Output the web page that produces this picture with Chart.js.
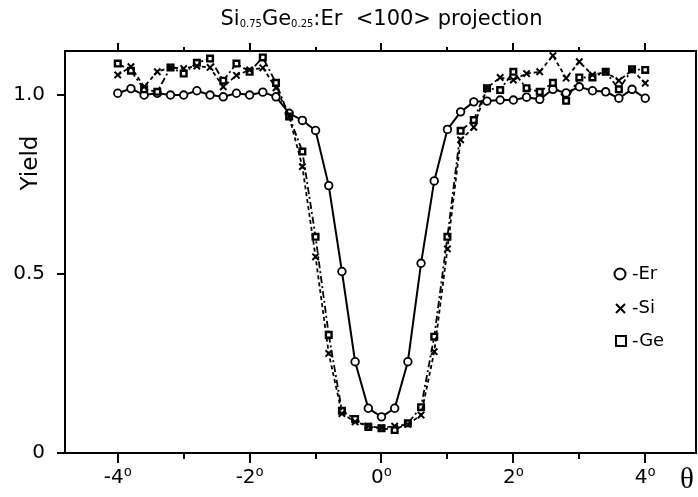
<!DOCTYPE html>
<html>
<head>
<meta charset="utf-8">
<script src="https://cdn.jsdelivr.net/npm/chart.js@4/dist/chart.umd.min.js"></script>
<style>
  html, body { margin: 0; padding: 0; background: #fff; }
  #wrap { width: 698px; height: 497px; }
</style>
</head>
<body>
<div id="wrap"><canvas id="c" width="698" height="497"></canvas></div>
<script>
// ---- data ----
const theta = [-4.0,-3.8,-3.6,-3.4,-3.2,-3.0,-2.8,-2.6,-2.4,-2.2,-2.0,-1.8,-1.6,-1.4,-1.2,-1.0,-0.8,-0.6,-0.4,-0.2,
               0.0,0.2,0.4,0.6,0.8,1.0,1.2,1.4,1.6,1.8,2.0,2.2,2.4,2.6,2.8,3.0,3.2,3.4,3.6,3.8,4.0];
const yieldEr = [1.005,1.018,1.000,1.005,1.000,1.000,1.012,1.000,0.995,1.005,1.000,1.008,0.995,0.949,0.929,0.901,0.747,0.507,0.255,0.125,
                 0.101,0.125,0.255,0.530,0.760,0.904,0.953,0.981,0.983,0.986,0.986,0.994,0.988,1.016,1.006,1.023,1.012,1.009,0.991,1.016,0.991];
const yieldSi = [1.056,1.079,1.023,1.065,1.077,1.074,1.081,1.077,1.023,1.055,1.070,1.076,1.020,0.940,0.800,0.548,0.278,0.110,0.087,0.075,
                 0.070,0.075,0.080,0.106,0.283,0.570,0.875,0.910,1.020,1.049,1.042,1.060,1.065,1.110,1.047,1.093,1.056,1.065,1.040,1.070,1.033];
const yieldGe = [1.088,1.068,1.016,1.009,1.077,1.060,1.090,1.102,1.040,1.088,1.065,1.105,1.034,0.940,0.842,0.604,0.330,0.118,0.095,0.073,
                 0.069,0.064,0.083,0.128,0.325,0.604,0.900,0.930,1.019,1.014,1.065,1.019,1.009,1.034,0.984,1.049,1.049,1.065,1.016,1.072,1.070];
const xTickValues = [-4,-3,-2,-1,0,1,2,3,4];
const xTickLabels = {"-4":"-4⁰","-2":"-2⁰","0":"0⁰","2":"2⁰","4":"4⁰"};
const yTickValues = [0, 0.5, 1.0];
const yTickLabels = {"0":"0","0.5":"0.5","1":"1.0"};
const seriesNames = ["-Er","-Si","-Ge"];

const pts = (ys) => theta.map((t, i) => ({x: t, y: ys[i]}));

const decor = {
  id: 'decor',
  afterDraw(chart) {
    const ctx = chart.ctx, a = chart.chartArea;
    const xs = chart.scales.x, ys = chart.scales.y;
    ctx.save();
    ctx.strokeStyle = '#000';
    ctx.lineWidth = 2;
    // top and right frame
    ctx.beginPath();
    ctx.moveTo(a.left, a.top); ctx.lineTo(a.right, a.top); ctx.lineTo(a.right, a.bottom);
    ctx.stroke();
    // x ticks (bottom outward, top outward)
    xTickValues.forEach(v => {
      const px = Math.round(xs.getPixelForValue(v));
      const major = v % 2 === 0;
      ctx.beginPath();
      ctx.moveTo(px, a.bottom); ctx.lineTo(px, a.bottom + (major ? 10 : 6));
      ctx.moveTo(px, a.top); ctx.lineTo(px, a.top - (major ? 8 : 4));
      ctx.stroke();
    });
    // y ticks
    yTickValues.forEach(v => {
      const py = Math.round(ys.getPixelForValue(v));
      ctx.beginPath();
      ctx.moveTo(a.left, py); ctx.lineTo(a.left - 8, py);
      ctx.stroke();
    });
    // title with subscripts
    const parts = [["Si",21,0],["0.75",10,2],["Ge",21,0],["0.25",10,2],[":Er  <100> projection",21,0]];
    let w = 0;
    parts.forEach(p => { ctx.font = p[1] + 'px "DejaVu Sans"'; w += ctx.measureText(p[0]).width; });
    let x = 381.5 - w / 2;
    ctx.fillStyle = '#000';
    ctx.textBaseline = 'alphabetic';
    ctx.textAlign = 'left';
    parts.forEach(p => {
      ctx.font = p[1] + 'px "DejaVu Sans"';
      ctx.fillText(p[0], x, 25 + p[2]);
      x += ctx.measureText(p[0]).width;
    });
    // Yield label
    ctx.save();
    ctx.translate(31, 163);
    ctx.rotate(-Math.PI / 2);
    ctx.font = '23px "DejaVu Sans"';
    ctx.textAlign = 'center';
    ctx.textBaseline = 'middle';
    ctx.fillText('Yield', 0, 0);
    ctx.restore();
    // theta label
    ctx.font = '29px "Liberation Serif"';
    ctx.textAlign = 'center';
    ctx.textBaseline = 'middle';
    ctx.fillText('θ', 687, 480);
    // legend
    ctx.lineWidth = 2;
    ctx.beginPath(); ctx.arc(620, 274, 5.5, 0, Math.PI * 2); ctx.stroke();
    ctx.beginPath();
    ctx.moveTo(616, 304); ctx.lineTo(625, 313);
    ctx.moveTo(625, 304); ctx.lineTo(616, 313);
    ctx.stroke();
    ctx.strokeRect(616, 336, 10, 10);
    ctx.font = '18px "DejaVu Sans"';
    ctx.textAlign = 'left';
    ctx.textBaseline = 'middle';
    ctx.fillText(seriesNames[0], 632, 274);
    ctx.fillText(seriesNames[1], 632, 308.5);
    ctx.fillText(seriesNames[2], 632, 341);
    ctx.restore();
  }
};

new Chart(document.getElementById('c'), {
  type: 'line',
  data: {
    datasets: [
      { label: 'Si', data: pts(yieldSi), borderColor: '#000', backgroundColor: '#fff', borderWidth: 1.8,
        borderDash: [4, 3], pointStyle: 'crossRot', pointRadius: 4.5, pointBorderWidth: 2, tension: 0 },
      { label: 'Ge', data: pts(yieldGe), borderColor: '#000', backgroundColor: '#fff', borderWidth: 1.8,
        borderDash: [7, 3, 2, 3], pointStyle: 'rect', pointRadius: 4, pointBorderWidth: 2.4, tension: 0 },
      { label: 'Er', data: pts(yieldEr), borderColor: '#000', backgroundColor: '#fff', borderWidth: 2,
        pointStyle: 'circle', pointRadius: 3.8, pointBorderWidth: 1.8, tension: 0 }
    ]
  },
  options: {
    responsive: false,
    animation: false,
    devicePixelRatio: 1,
    layout: { autoPadding: false, padding: { top: 51, right: 2, left: 0, bottom: 0 } },
    plugins: { legend: { display: false }, tooltip: { enabled: false } },
    scales: {
      x: {
        type: 'linear', min: -4.8, max: 4.77,
        afterBuildTicks: s => { s.ticks = xTickValues.map(v => ({value: v})); },
        afterFit: s => { s.height = 44; s.paddingRight = 0; s.paddingLeft = 0; },
        grid: { display: false, drawTicks: true, tickLength: 0 },
        border: { display: true, color: '#000', width: 2 },
        ticks: {
          autoSkip: false, maxRotation: 0, padding: 13, color: '#000',
          font: { family: '"DejaVu Sans"', size: 20 },
          callback: v => xTickLabels[String(v)] || ''
        }
      },
      y: {
        type: 'linear', min: 0, max: 1.123,
        afterBuildTicks: s => { s.ticks = yTickValues.map(v => ({value: v})); },
        afterFit: s => { s.width = 65; },
        grid: { display: false, drawTicks: true, tickLength: 0 },
        border: { display: true, color: '#000', width: 2 },
        ticks: {
          padding: 20, color: '#000',
          font: { family: '"DejaVu Sans"', size: 20 },
          callback: v => yTickLabels[String(v)] || ''
        }
      }
    }
  },
  plugins: [decor]
});
</script>
</body>
</html>
